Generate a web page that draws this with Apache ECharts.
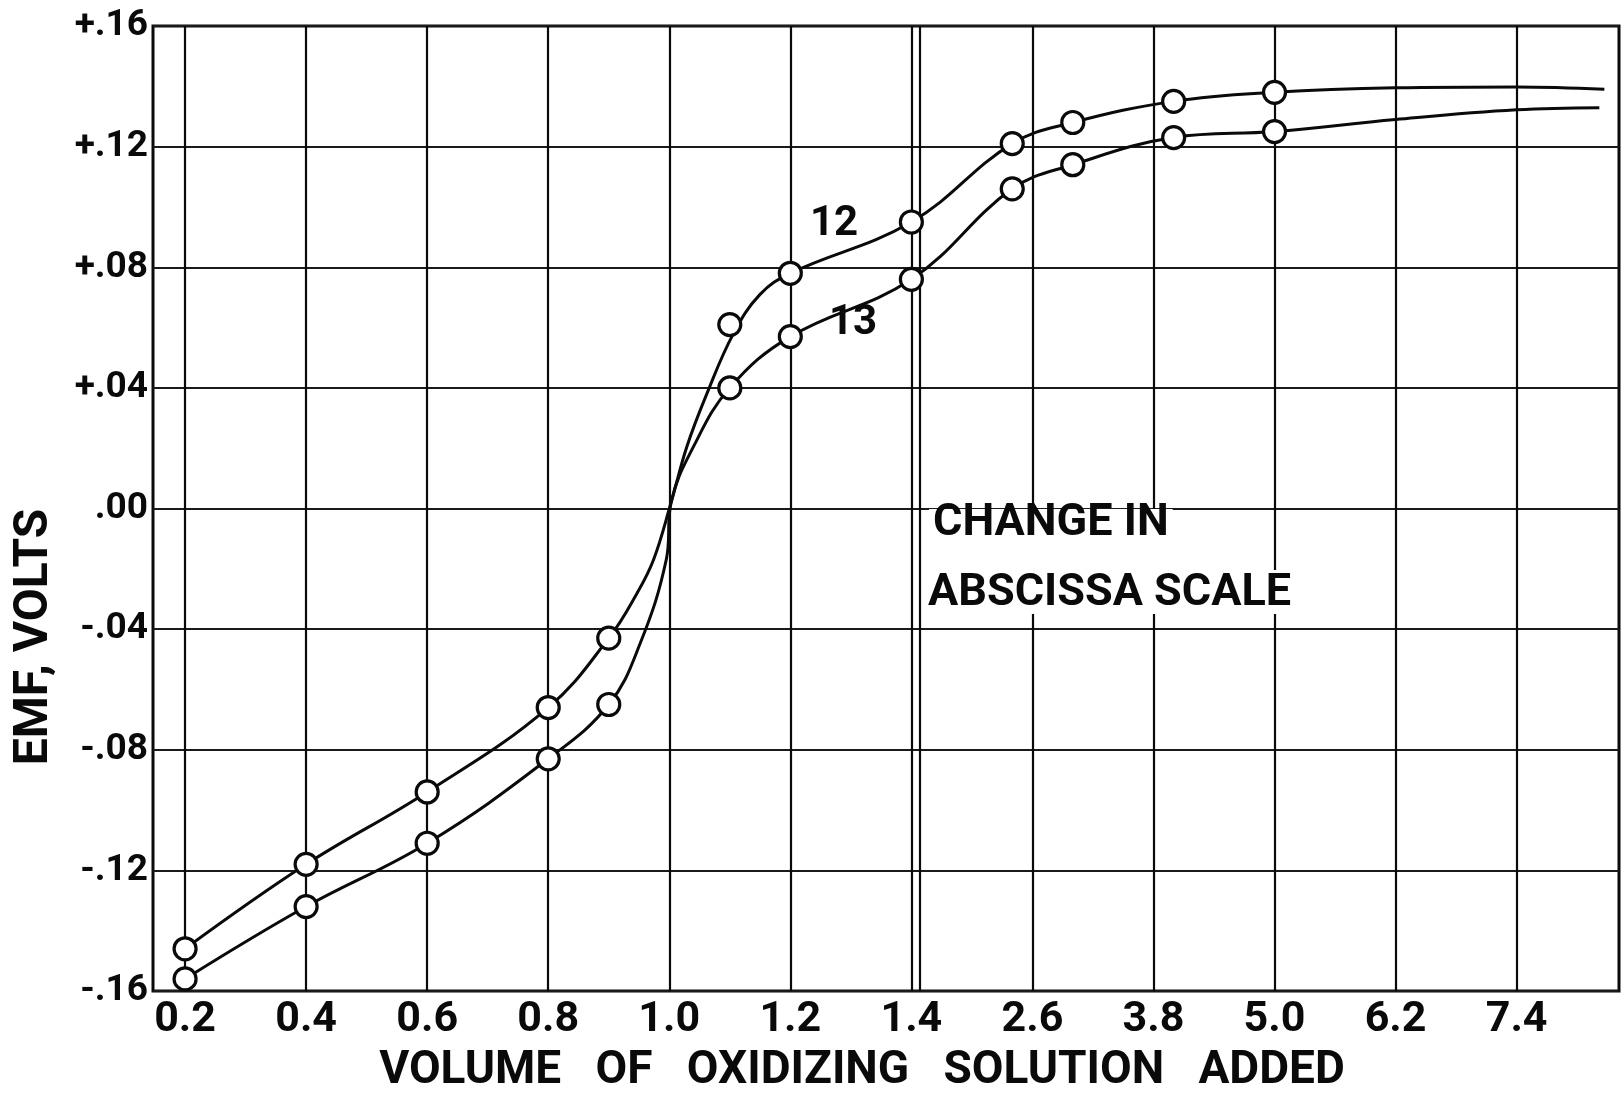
<!DOCTYPE html>
<html>
<head>
<meta charset="utf-8">
<script src="https://cdn.jsdelivr.net/npm/echarts@6/dist/echarts.min.js"></script>
<style>
  html, body { margin: 0; padding: 0; background: #fff; }
  #chart { width: 1623px; height: 1099px; }
</style>
</head>
<body>
<div id="chart"></div>
<script>
// Abscissa grid values and their printed labels (the scale changes after 1.4)
const tickValues = [0.2, 0.4, 0.6, 0.8, 1.0, 1.2, 1.4, 2.6, 3.8, 5.0, 6.2, 7.4];
const tickLabels = ['0.2', '0.4', '0.6', '0.8', '1.0', '1.2', '1.4', '2.6', '3.8', '5.0', '6.2', '7.4'];
const emfTickLabels = ['-.16', '-.12', '-.08', '-.04', '.00', '+.04', '+.08', '+.12', '+.16'];

// Measured points, volume of oxidizing solution vs. EMF (volts)
const volume = [0.2, 0.4, 0.6, 0.8, 0.9, 1.1, 1.2, 1.4, 2.4, 3.0, 4.0, 5.0];
const emf12 = [-0.146, -0.118, -0.094, -0.066, -0.043, 0.061, 0.078, 0.095, 0.121, 0.128, 0.135, 0.138];
const emf13 = [-0.156, -0.132, -0.111, -0.083, -0.065, 0.040, 0.057, 0.076, 0.106, 0.114, 0.123, 0.125];

// Faired curves as drawn through the points
const curve12Volume = [0.2, 0.4, 0.6, 0.8, 0.9, 0.947, 0.974, 1.003, 1.029, 1.062, 1.106, 1.15, 1.2, 1.4, 2.4, 3.0, 4.0, 5.0, 6.2, 7.4, 8.27];
const curve12Emf = [-0.146, -0.118, -0.094, -0.066, -0.043, -0.028, -0.017, 0.002, 0.0205, 0.038, 0.058, 0.071, 0.078, 0.095, 0.121, 0.128, 0.135, 0.138, 0.1395, 0.1398, 0.139];
const curve13Volume = [0.2, 0.4, 0.6, 0.8, 0.9, 0.952, 0.995, 1.003, 1.04, 1.1, 1.2, 1.4, 2.4, 3.0, 4.0, 5.0, 6.2, 7.4, 8.22];
const curve13Emf = [-0.156, -0.132, -0.111, -0.083, -0.065, -0.0447, -0.017, 0.002, 0.0205, 0.040, 0.057, 0.076, 0.106, 0.114, 0.123, 0.125, 0.129, 0.1322, 0.1329];

// Piecewise abscissa: 0.2 per division up to 1.4, then 1.2 per division
const SCALE_BREAK = 1.4;
function gridPos(v) {
  return v <= SCALE_BREAK ? v / 0.2 : SCALE_BREAK / 0.2 + (v - SCALE_BREAK) / 1.2;
}
const pair = (xs, ys) => xs.map((x, i) => [gridPos(x), ys[i]]);

const FONT = 'Roboto, "Liberation Sans", sans-serif';
const INK = '#0a0a0a';

const chart = echarts.init(document.getElementById('chart'), null, { renderer: 'canvas' });

const gridLineData = tickValues.map(v => {
  const item = { xAxis: gridPos(v) };
  if (v === SCALE_BREAK) {
    // doubled rule marking the change in abscissa scale
    item.lineStyle = { color: INK, width: 2.2, type: 'solid', shadowColor: INK, shadowOffsetX: 8, shadowBlur: 0 };
  }
  return item;
});

const pointStyle = { color: '#fff', borderColor: INK, borderWidth: 3.2, opacity: 1 };

chart.setOption({
  animation: false,
  backgroundColor: '#fff',
  grid: {
    left: 153, top: 26, width: 1466, height: 965,
    show: true, borderColor: INK, borderWidth: 3, backgroundColor: 'transparent'
  },
  xAxis: {
    type: 'value',
    min: gridPos(0.147),
    max: gridPos(8.415),
    axisLine: { show: false },
    axisTick: { show: false, customValues: tickValues.map(gridPos) },
    splitLine: { show: false },
    axisLabel: {
      customValues: tickValues.map(gridPos),
      margin: 8,
      color: INK,
      fontFamily: FONT,
      fontWeight: 'bold',
      fontSize: 43,
      formatter: val => {
        const i = tickValues.findIndex(t => Math.abs(gridPos(t) - val) < 1e-6);
        return i >= 0 ? tickLabels[i] : '';
      }
    }
  },
  yAxis: {
    type: 'value',
    min: -0.16,
    max: 0.16,
    interval: 0.04,
    axisLine: { show: false },
    axisTick: { show: false },
    splitLine: { show: true, lineStyle: { color: '#1a1a1a', width: 1.8 } },
    axisLabel: {
      margin: 5,
      color: INK,
      fontFamily: FONT,
      fontWeight: 'bold',
      fontSize: 37,
      formatter: val => emfTickLabels[Math.round((val + 0.16) / 0.04)]
    }
  },
  series: [
    {
      name: 'grid rules',
      type: 'line',
      data: [],
      z: 1,
      silent: true,
      markLine: {
        silent: true,
        symbol: ['none', 'none'],
        label: { show: false },
        emphasis: { disabled: true },
        lineStyle: { color: INK, width: 2.2, type: 'solid' },
        data: gridLineData
      }
    },
    {
      name: '12 curve',
      type: 'line',
      data: pair(curve12Volume, curve12Emf),
      smooth: 0.4,
      showSymbol: false,
      lineStyle: { color: INK, width: 3 },
      z: 3
    },
    {
      name: '13 curve',
      type: 'line',
      data: pair(curve13Volume, curve13Emf),
      smooth: 0.4,
      showSymbol: false,
      lineStyle: { color: INK, width: 3 },
      z: 3
    },
    {
      name: '12',
      type: 'scatter',
      data: pair(volume, emf12),
      symbol: 'circle',
      symbolSize: 22,
      itemStyle: pointStyle,
      z: 5
    },
    {
      name: '13',
      type: 'scatter',
      data: pair(volume, emf13),
      symbol: 'circle',
      symbolSize: 22,
      itemStyle: pointStyle,
      z: 5
    }
  ],
  graphic: [
    { type: 'text', left: 810, top: 203, z: 10,
      style: { text: '12', font: 'bold 42px ' + FONT, fill: INK } },
    { type: 'text', left: 829, top: 302, z: 10,
      style: { text: '13', font: 'bold 42px ' + FONT, fill: INK } },
    { type: 'text', x: 929, y: 509, z: 10,
      style: { text: 'CHANGE IN', font: 'bold 45px ' + FONT, fill: INK, lineHeight: 30,
               backgroundColor: '#fff', padding: [0, 4, 31, 4], verticalAlign: 'top' } },
    { type: 'text', x: 924, y: 570, z: 10,
      style: { text: 'ABSCISSA SCALE', font: 'bold 45px ' + FONT, fill: INK, lineHeight: 30,
               backgroundColor: '#fff', padding: [9, 4, 5, 4], verticalAlign: 'top' } },
    { type: 'text', x: 35, y: 637, rotation: Math.PI / 2, z: 10,
      style: { text: 'EMF, VOLTS', font: 'bold 48px ' + FONT, fill: INK, align: 'center', verticalAlign: 'middle' } },
    { type: 'text', x: 862, y: 1071, z: 10,
      style: { text: 'VOLUME   OF   OXIDIZING   SOLUTION   ADDED', font: 'bold 46px ' + FONT, fill: INK, align: 'center', verticalAlign: 'middle' } }
  ]
});
</script>
</body>
</html>
